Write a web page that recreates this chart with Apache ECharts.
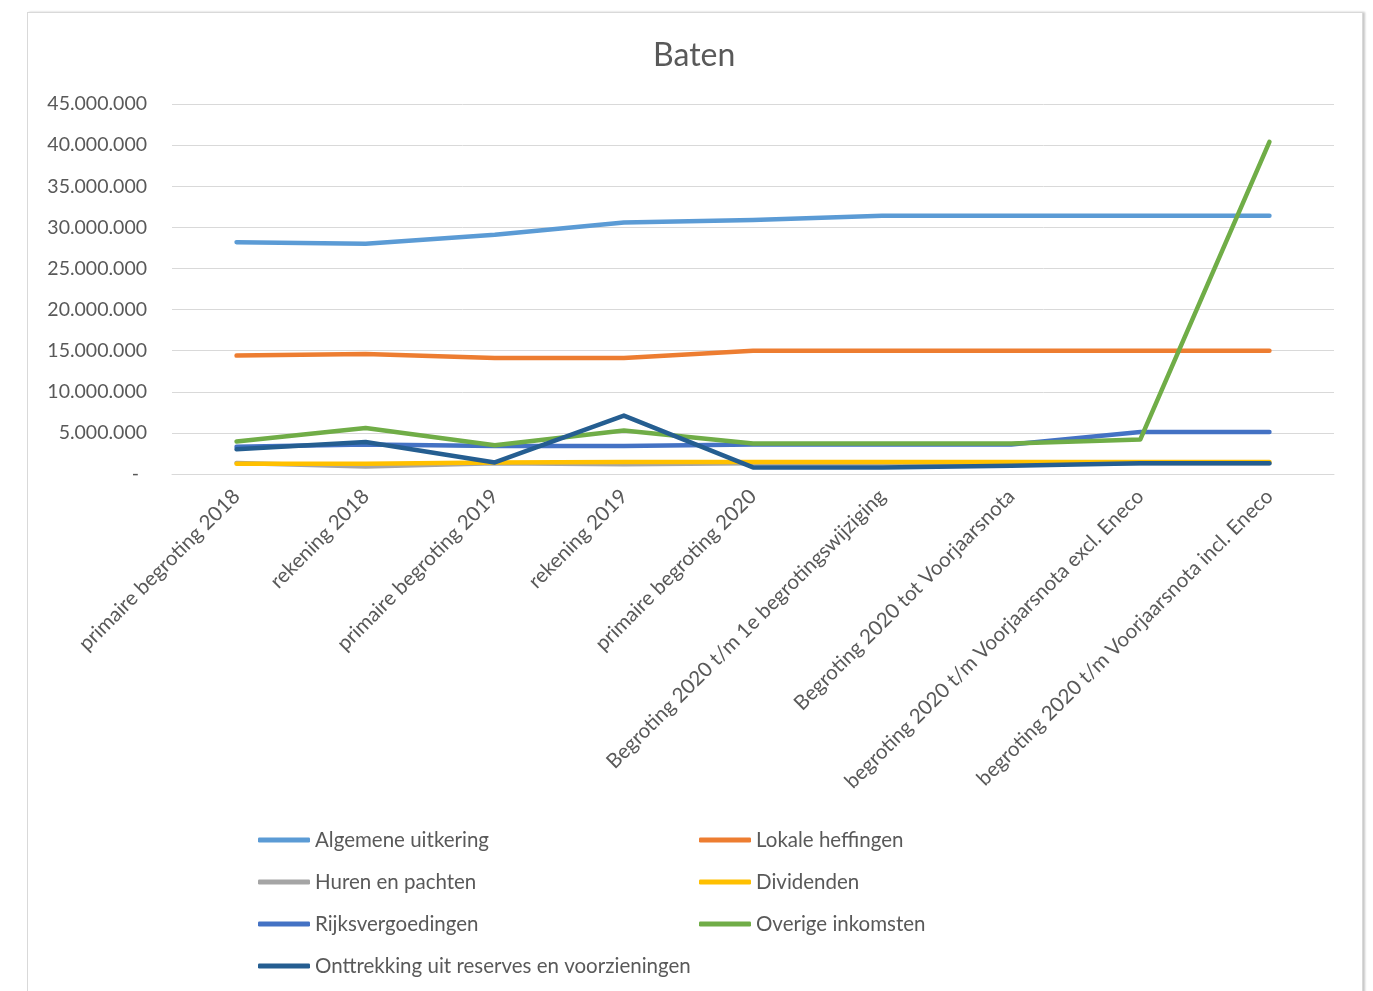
<!DOCTYPE html>
<html>
<head>
<meta charset="utf-8">
<script src="https://cdn.jsdelivr.net/npm/echarts@6/dist/echarts.min.js"></script>
<style>
html,body{margin:0;padding:0;background:#fff;overflow:hidden;}
#frame{position:absolute;left:27px;top:12px;width:1334px;height:1000px;border:1px solid #d9d9d9;box-shadow:2px 0 2px #c8c8c8;background:#fff;}
#chart{position:absolute;left:0;top:0;width:1373px;height:991px;}
</style>
</head>
<body>
<div id="frame"></div>
<div id="chart"></div>
<script>
const categories = [
  'primaire begroting 2018',
  'rekening 2018',
  'primaire begroting 2019',
  'rekening 2019',
  'primaire begroting 2020',
  'Begroting 2020 t/m 1e begrotingswijziging',
  'Begroting 2020 tot Voorjaarsnota',
  'begroting 2020 t/m Voorjaarsnota excl. Eneco',
  'begroting 2020 t/m Voorjaarsnota incl. Eneco'
];
const algemeneUitkering = [28200000, 28000000, 29100000, 30600000, 30900000, 31400000, 31400000, 31400000, 31400000];
const lokaleHeffingen = [14400000, 14600000, 14100000, 14100000, 15000000, 15000000, 15000000, 15000000, 15000000];
const hurenEnPachten = [1350000, 900000, 1300000, 1200000, 1300000, 1300000, 1300000, 1300000, 1300000];
const dividenden = [1250000, 1250000, 1400000, 1450000, 1450000, 1450000, 1450000, 1450000, 1450000];
const rijksvergoedingen = [3300000, 3600000, 3400000, 3400000, 3600000, 3600000, 3600000, 5100000, 5100000];
const overigeInkomsten = [3950000, 5600000, 3500000, 5300000, 3700000, 3700000, 3700000, 4200000, 40400000];
const onttrekking = [3000000, 3900000, 1400000, 7100000, 800000, 800000, 1000000, 1300000, 1300000];
const yTicks = [0, 5000000, 10000000, 15000000, 20000000, 25000000, 30000000, 35000000, 40000000, 45000000];

const FONT = 'Lato';
const TXT = '#595959';
const seriesDefs = [
  ['Algemene uitkering', algemeneUitkering, '#5B9BD5'],
  ['Lokale heffingen', lokaleHeffingen, '#ED7D31'],
  ['Huren en pachten', hurenEnPachten, '#A5A5A5'],
  ['Dividenden', dividenden, '#FFC000'],
  ['Rijksvergoedingen', rijksvergoedingen, '#4472C4'],
  ['Overige inkomsten', overigeInkomsten, '#70AD47'],
  ['Onttrekking uit reserves en voorzieningen', onttrekking, '#255E91']
];

function fmt(v){
  if (v === 0) return '{d|-}';
  return String(Math.round(v)).replace(/\B(?=(\d{3})+(?!\d))/g, '.');
}

const legendCommon = {
  orient: 'vertical',
  padding: 0,
  itemWidth: 52,
  itemHeight: 5,
  itemGap: 20,
  icon: 'roundRect',
  textStyle: {fontFamily: FONT, fontSize: 20.5, color: TXT, lineHeight: 22, padding: [0,0,0,0]}
};

const chart = echarts.init(document.getElementById('chart'), null, {renderer: 'canvas'});
chart.setOption({
  backgroundColor: 'transparent',
  animation: false,
  title: {
    text: 'Baten', left: 648, top: 35,
    textStyle: {fontFamily: FONT, fontSize: 32, fontWeight: 'normal', color: TXT}
  },
  legend: [
    Object.assign({left: 258, top: 829, data: ['Algemene uitkering','Huren en pachten','Rijksvergoedingen','Onttrekking uit reserves en voorzieningen']}, legendCommon),
    Object.assign({left: 699, top: 829, data: ['Lokale heffingen','Dividenden','Overige inkomsten']}, legendCommon)
  ],
  grid: {left: 172, right: 39, top: 104, bottom: 517, containLabel: false},
  xAxis: {
    type: 'category',
    data: categories,
    boundaryGap: true,
    axisLine: {show: true, lineStyle: {color: '#d9d9d9', width: 1}},
    axisTick: {show: false},
    axisLabel: {rotate: 45, interval: 0, margin: 19, fontFamily: FONT, fontSize: 20.5, color: TXT}
  },
  yAxis: {
    type: 'value',
    min: 0, max: 45000000, interval: 5000000,
    axisLine: {show: false},
    axisTick: {show: false},
    splitLine: {lineStyle: {color: '#d9d9d9', width: 1}},
    axisLabel: {
      margin: 25, fontFamily: FONT, fontSize: 19.5, color: TXT, formatter: fmt, customValues: yTicks,
      rich: {d: {fontFamily: FONT, fontSize: 19.5, color: TXT, padding: [0, 8, 0, 0]}}
    }
  },
  series: seriesDefs.map(([name, data, color]) => ({
    name, type: 'line', data,
    symbol: 'none',
    lineStyle: {color, width: 4.5, cap: 'round', join: 'round'},
    itemStyle: {color},
    emphasis: {disabled: true}
  }))
});
</script>
</body>
</html>
